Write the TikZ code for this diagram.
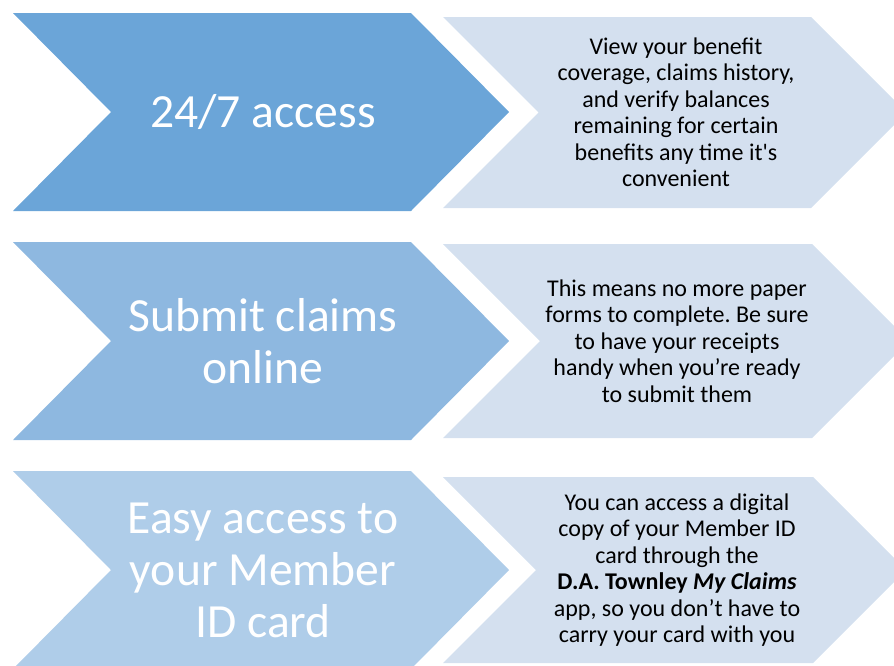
\documentclass[tikz,border=0pt]{standalone}
\usepackage{fontspec}
\setmainfont{Carlito}[Ligatures=TeXOff]
\frenchspacing
\definecolor{blueA}{RGB}{107,165,216}
\definecolor{blueB}{RGB}{142,184,224}
\definecolor{blueC}{RGB}{175,205,233}
\definecolor{paleblue}{RGB}{212,224,239}
\tikzset{
  headtext/.style={text=white, align=center, font=\fontsize{47.6}{52}\selectfont, inner sep=0pt},
  bodytext/.style={text=black, align=center, font=\fontsize{24}{26.5}\selectfont, inner sep=0pt},
}
\begin{document}
\begin{tikzpicture}[x=1pt,y=-1pt]
\useasboundingbox (0,0) rectangle (894,665);
% right chevrons
\fill[paleblue] (443,17) -- (811,17) -- (906.5,112.5) -- (811,208) -- (443,208) -- (538.5,112.5) -- cycle;
\fill[paleblue] (443,244) -- (812,244) -- (909,341) -- (812,438) -- (443,438) -- (540,341) -- cycle;
\fill[paleblue] (443,477) -- (813,477) -- (906,570) -- (813,663) -- (443,663) -- (536,570) -- cycle;
% left chevrons
\fill[blueA] (13,13) -- (411,13) -- (509,112) -- (411,211) -- (13,211) -- (111,112) -- cycle;
\fill[blueB] (13,242) -- (411,242) -- (509,341) -- (411,440) -- (13,440) -- (111,341) -- cycle;
\fill[blueC] (13,471) -- (411,471) -- (509,570) -- (411,669) -- (13,669) -- (111,570) -- cycle;
% texts
\node[headtext] (h1) at (263,112) {24/7 access};
\node[headtext] (h2) at (263,341) {Submit claims\\online};
\node[headtext] (h3) at (263,570) {Easy access to\\your Member\\ID card};
\node[bodytext] (b1) at (676,112) {View your benefit\\coverage, claims history,\\and verify balances\\remaining for certain\\benefits any time it's\\convenient};
\node[bodytext] (b2) at (677,341) {This means no more paper\\forms to complete. Be sure\\to have your receipts\\handy when you’re ready\\to submit them};
\node[bodytext] (b3) at (677,570) {You can access a digital\\copy of your Member ID\\card through the\\\textbf{D.A. Townley \textit{My Claims}}\\app, so you don’t have to\\carry your card with you};
\end{tikzpicture}
\end{document}
